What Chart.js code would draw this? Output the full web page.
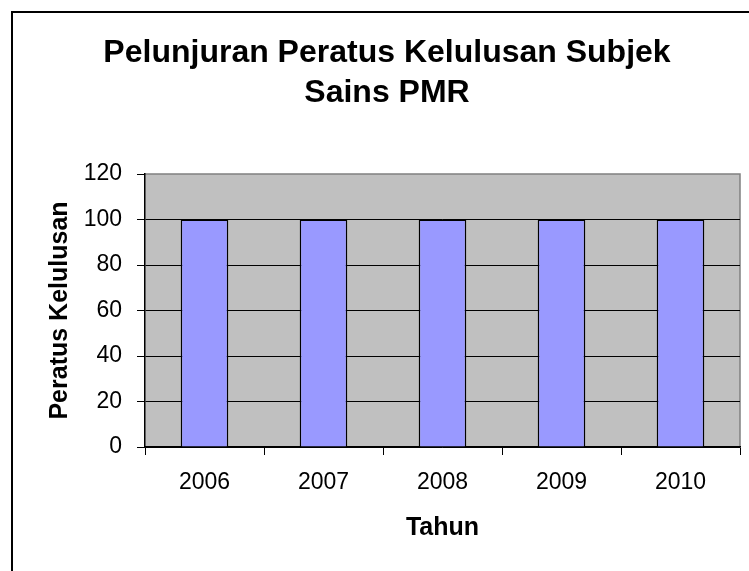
<!DOCTYPE html>
<html>
<head>
<meta charset="utf-8">
<script src="https://cdn.jsdelivr.net/npm/chart.js@4/dist/chart.umd.min.js"></script>
<style>
  html, body { margin: 0; padding: 0; background: #fff; }
  #chart { display: block; }
</style>
</head>
<body>
<canvas id="chart" width="749" height="571"></canvas>
<script>
  const years = ['2006', '2007', '2008', '2009', '2010'];
  const passRates = [100, 100, 100, 100, 100];
  const titleLines = ['Pelunjuran Peratus Kelulusan Subjek', 'Sains PMR'];
  const yTitle = 'Peratus Kelulusan';
  const xTitle = 'Tahun';
  const yMin = 0;
  const yMax = 120;
  const yStep = 20;

  const FONT = '"Liberation Sans", Arial, sans-serif';

  // gray plot area, gray top/right edge, and the outer frame of the sheet
  const plotBg = {
    id: 'plotBg',
    beforeDraw(chart) {
      const { ctx, chartArea: a } = chart;
      ctx.save();
      ctx.fillStyle = '#c0c0c0';
      ctx.fillRect(a.left, a.top, a.right - a.left, a.bottom - a.top);
      ctx.strokeStyle = '#808080';
      ctx.lineWidth = 1.5;
      ctx.beginPath();
      ctx.moveTo(a.left, a.top);
      ctx.lineTo(a.right, a.top);
      ctx.lineTo(a.right, a.bottom);
      ctx.stroke();
      ctx.strokeStyle = '#000';
      ctx.lineWidth = 2;
      ctx.beginPath();
      ctx.moveTo(12, chart.height);
      ctx.lineTo(12, 12);
      ctx.lineTo(chart.width, 12);
      ctx.stroke();
      ctx.restore();
    },
  };

  new Chart(document.getElementById('chart'), {
    type: 'bar',
    data: {
      labels: years,
      datasets: [{
        data: passRates,
        backgroundColor: '#9999ff',
        borderColor: '#000',
        borderWidth: 1.5,
        categoryPercentage: 1,
        barPercentage: 0.4,
      }],
    },
    options: {
      responsive: false,
      animation: false,
      layout: { padding: { left: 34, top: 0, right: 9, bottom: 0 } },
      plugins: {
        legend: { display: false },
        tooltip: { enabled: false },
        title: {
          display: true,
          text: titleLines,
          color: '#000',
          font: { family: FONT, size: 32, weight: 'bold', lineHeight: 1.25 },
          padding: { top: 33, bottom: 61 },
        },
      },
      scales: {
        x: {
          afterFit: (scale) => { scale.height = 124; },
          grid: {
            offset: true,
            drawOnChartArea: false,
            drawTicks: true,
            tickLength: 8,
            tickColor: '#000',
            color: '#000',
          },
          border: { display: true, color: '#000', width: 1.5 },
          ticks: {
            color: '#000',
            padding: 14,
            font: { family: FONT, size: 23 },
          },
          title: {
            display: true,
            text: xTitle,
            color: '#000',
            font: { family: FONT, size: 25, weight: 'bold' },
            padding: { top: 0, bottom: 28 },
          },
        },
        y: {
          min: yMin,
          max: yMax,
          afterFit: (scale) => { scale.width = 111; },
          grid: {
            color: (ctx) => (ctx.tick && ctx.tick.value === yMax ? 'rgba(0,0,0,0)' : '#000'),
            tickColor: '#000',
            tickLength: 8,
            lineWidth: 1,
          },
          border: { display: true, color: '#000', width: 1.5 },
          ticks: {
            stepSize: yStep,
            color: '#000',
            padding: 15,
            font: { family: FONT, size: 23 },
          },
          title: {
            display: true,
            text: yTitle,
            color: '#000',
            font: { family: FONT, size: 25, weight: 'bold' },
            padding: { top: 11, bottom: 0 },
          },
        },
      },
    },
    plugins: [plotBg],
  });
</script>
</body>
</html>
